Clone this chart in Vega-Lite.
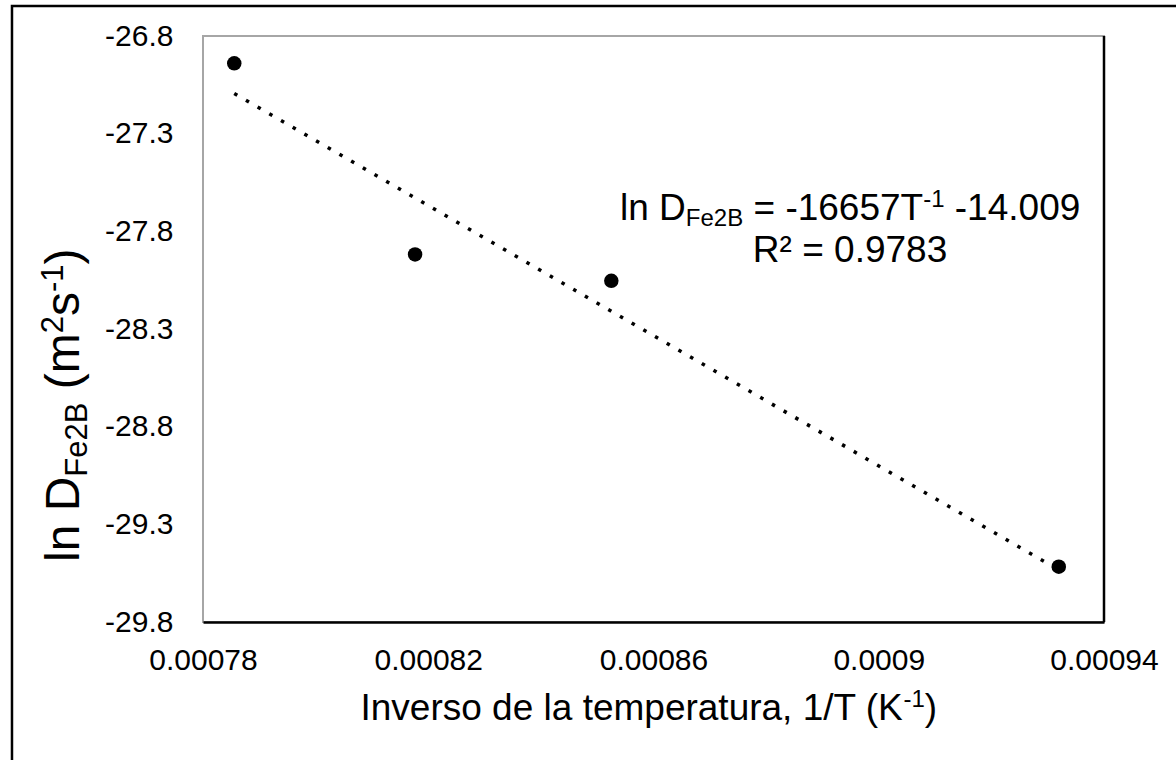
{
  "$schema": "https://vega.github.io/schema/vega-lite/v6.json",
  "width": 901,
  "height": 586,
  "autosize": {"type": "none"},
  "padding": {"left": 203, "top": 36, "right": 72, "bottom": 138},
  "background": "white",
  "config": {
    "view": {"stroke": "#a6a6a6", "strokeWidth": 2},
    "font": "Liberation Sans",
    "axis": {
      "grid": false, "ticks": false, "tickSize": 0,
      "labelFont": "Liberation Sans", "labelFontSize": 30, "labelColor": "black",
      "labelOverlap": false, "labelFlush": false, "labelBound": false
    },
    "text": {"font": "Liberation Sans", "color": "black"}
  },
  "datasets": {
    "points": [
      {"inv_T": 0.00078555, "lnD": -26.94},
      {"inv_T": 0.00081766, "lnD": -27.918},
      {"inv_T": 0.00085251, "lnD": -28.053},
      {"inv_T": 0.00093197, "lnD": -29.517}
    ],
    "trend": [
      {"inv_T": 0.00078555, "lnD": -27.094},
      {"inv_T": 0.00093197, "lnD": -29.533}
    ],
    "one": [{}]
  },
  "layer": [
    {
      "data": {"name": "trend"},
      "mark": {"type": "line", "color": "black", "strokeWidth": 3.5, "strokeDash": [3.5, 10], "strokeCap": "butt"},
      "encoding": {
        "x": {"field": "inv_T", "type": "quantitative", "title": null},
        "y": {"field": "lnD", "type": "quantitative", "title": null}
      }
    },
    {
      "data": {"name": "points"},
      "mark": {"type": "point", "filled": true, "size": 210, "color": "black", "opacity": 1},
      "encoding": {
        "x": {
          "field": "inv_T", "type": "quantitative", "title": null,
          "scale": {"domain": [0.00078, 0.00094], "nice": false, "zero": false},
          "axis": {
            "values": [0.00078, 0.00082, 0.00086, 0.0009, 0.00094],
            "labelExpr": "'' + datum.value",
            "labelPadding": 23, "labelBaseline": "top",
            "domain": true, "domainColor": "black", "domainWidth": 2.5
          }
        },
        "y": {
          "field": "lnD", "type": "quantitative", "title": null,
          "scale": {"domain": [-29.8, -26.8], "nice": false, "zero": false},
          "axis": {
            "values": [-29.8, -29.3, -28.8, -28.3, -27.8, -27.3, -26.8],
            "labelExpr": "'' + datum.value",
            "labelPadding": 30, "labelAlign": "right", "labelBaseline": "middle",
            "domain": false
          }
        }
      }
    },
    {
      "data": {"name": "one"},
      "mark": {"type": "rule", "color": "black", "strokeWidth": 2.5},
      "encoding": {
        "x": {"datum": 0.00094, "type": "quantitative", "title": null},
        "y": {"datum": -29.8, "type": "quantitative", "title": null},
        "y2": {"datum": -26.8}
      }
    },
    {
      "data": {"name": "one"},
      "mark": {"type": "rect", "fill": "transparent", "stroke": "black", "strokeWidth": 2.5, "clip": false},
      "encoding": {
        "x": {"datum": 0.00074608, "type": "quantitative", "title": null},
        "x2": {"datum": 0.00095527},
        "y": {"datum": -26.6464, "type": "quantitative", "title": null},
        "y2": {"datum": -30.583}
      }
    },
    {
      "data": {"name": "one"},
      "encoding": {
        "x": {"datum": 0.00085405, "type": "quantitative", "title": null},
        "y": {"datum": -27.742, "type": "quantitative", "title": null}
      },
      "layer": [
        {"mark": {"type": "text", "text": "ln D", "fontSize": 37, "align": "left", "baseline": "alphabetic", "dx": 0}},
        {"mark": {"type": "text", "text": "Fe2B", "fontSize": 24, "align": "left", "baseline": "alphabetic", "dx": 65.8, "dy": 6}},
        {"mark": {"type": "text", "text": "= -16657T", "fontSize": 37, "align": "left", "baseline": "alphabetic", "dx": 133.5}},
        {"mark": {"type": "text", "text": "-1", "fontSize": 24, "align": "left", "baseline": "alphabetic", "dx": 303.2, "dy": -13}},
        {"mark": {"type": "text", "text": "-14.009", "fontSize": 37, "align": "left", "baseline": "alphabetic", "dx": 334.8}}
      ]
    },
    {
      "data": {"name": "one"},
      "mark": {"type": "text", "text": "R² = 0.9783", "fontSize": 37, "align": "center", "baseline": "alphabetic"},
      "encoding": {
        "x": {"datum": 0.0008949, "type": "quantitative", "title": null},
        "y": {"datum": -27.957, "type": "quantitative", "title": null}
      }
    },
    {
      "data": {"name": "one"},
      "encoding": {
        "x": {"datum": 0.00075805, "type": "quantitative", "title": null},
        "y": {"datum": -29.4928, "type": "quantitative", "title": null}
      },
      "layer": [
        {"mark": {"type": "text", "text": "ln D", "fontSize": 48, "angle": 270, "align": "left", "baseline": "alphabetic", "dx": 0}},
        {"mark": {"type": "text", "text": "Fe2B", "fontSize": 31, "angle": 270, "align": "left", "baseline": "alphabetic", "dx": 85.3, "dy": 8}},
        {"mark": {"type": "text", "text": "(m", "fontSize": 48, "angle": 270, "align": "left", "baseline": "alphabetic", "dx": 172.7}},
        {"mark": {"type": "text", "text": "2", "fontSize": 31, "angle": 270, "align": "left", "baseline": "alphabetic", "dx": 228.7, "dy": -16}},
        {"mark": {"type": "text", "text": "s", "fontSize": 48, "angle": 270, "align": "left", "baseline": "alphabetic", "dx": 245.9}},
        {"mark": {"type": "text", "text": "-1", "fontSize": 31, "angle": 270, "align": "left", "baseline": "alphabetic", "dx": 269.9, "dy": -16}},
        {"mark": {"type": "text", "text": ")", "fontSize": 48, "angle": 270, "align": "left", "baseline": "alphabetic", "dx": 297.5}}
      ]
    },
    {
      "data": {"name": "one"},
      "encoding": {
        "x": {"datum": 0.00080797, "type": "quantitative", "title": null},
        "y": {"datum": -30.3017, "type": "quantitative", "title": null}
      },
      "layer": [
        {"mark": {"type": "text", "text": "Inverso de la temperatura, 1/T (K", "fontSize": 37, "align": "left", "baseline": "alphabetic", "dx": 0}},
        {"mark": {"type": "text", "text": "-1", "fontSize": 24, "align": "left", "baseline": "alphabetic", "dx": 542.9, "dy": -13}},
        {"mark": {"type": "text", "text": ")", "fontSize": 37, "align": "left", "baseline": "alphabetic", "dx": 564.2}}
      ]
    }
  ]
}
